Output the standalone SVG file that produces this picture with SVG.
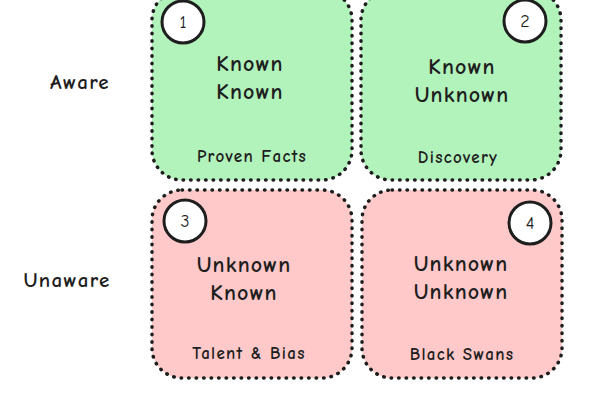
<svg xmlns="http://www.w3.org/2000/svg" width="600" height="400" viewBox="0 0 600 400">
<style>
.box{stroke:#1e1e1e;stroke-width:3.5;stroke-dasharray:0.5 7;stroke-linecap:round}
.g{fill:#b2f2bb}.r{fill:#ffc9c9}
.c{fill:#fff;stroke:#1e1e1e;stroke-width:3}
text{font-family:"Comic Neue","Noto Sans","Liberation Sans",sans-serif;fill:#1e1e1e;text-anchor:middle;font-weight:bold}
.t{font-size:22px;letter-spacing:1.2px}.s{font-size:17px;letter-spacing:1.3px}.n{font-size:18px;font-weight:normal}.l{font-size:21px;letter-spacing:1.3px}
</style>
<rect width="600" height="400" fill="#fff"/>
<g id="row-labels">
<text class="l" x="80" y="89">Aware</text>
<text class="l" x="67" y="287">Unaware</text>
</g>
<g id="q1">
<rect class="box g" x="152" y="-10" width="200" height="190" rx="30"/>
<circle class="c" cx="183" cy="22" r="21"/>
<text class="n" x="183" y="28">1</text>
<text class="t" x="250" y="71">Known</text>
<text class="t" x="250" y="99">Known</text>
<text class="s" x="252" y="162">Proven Facts</text>
</g>
<g id="q2">
<rect class="box g" x="361" y="-10" width="200" height="190" rx="30"/>
<circle class="c" cx="525" cy="21" r="21"/>
<text class="n" x="525" y="27">2</text>
<text class="t" x="462" y="74">Known</text>
<text class="t" x="462" y="102">Unknown</text>
<text class="s" x="458" y="163">Discovery</text>
</g>
<g id="q3">
<rect class="box r" x="152" y="190" width="200" height="188" rx="30"/>
<circle class="c" cx="185" cy="221" r="21"/>
<text class="n" x="185" y="227">3</text>
<text class="t" x="244" y="272">Unknown</text>
<text class="t" x="244" y="300">Known</text>
<text class="s" x="249" y="359">Talent &amp; Bias</text>
</g>
<g id="q4">
<rect class="box r" x="362" y="190" width="200" height="188" rx="30"/>
<circle class="c" cx="530" cy="223" r="21"/>
<text class="n" x="530" y="229">4</text>
<text class="t" x="461" y="271">Unknown</text>
<text class="t" x="461" y="299">Unknown</text>
<text class="s" x="462" y="360">Black Swans</text>
</g>
</svg>
